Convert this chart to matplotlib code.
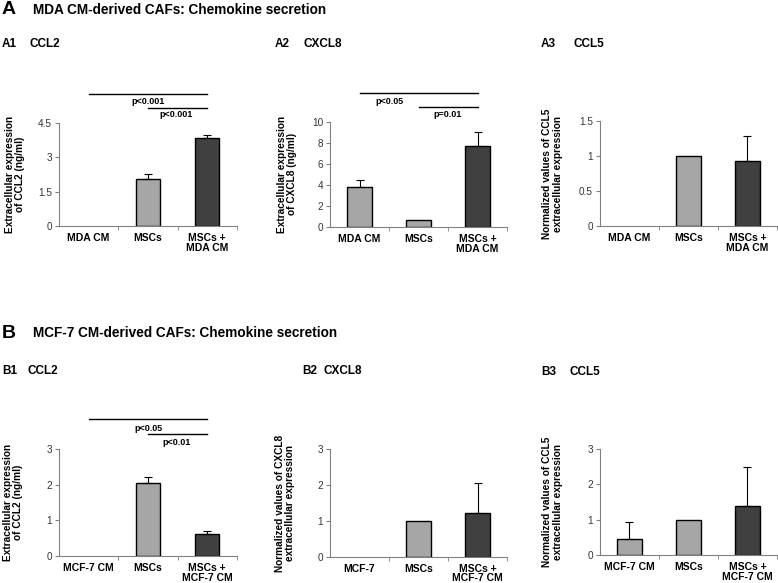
import numpy as np
import matplotlib
matplotlib.use("Agg")
import matplotlib.pyplot as plt
import matplotlib.transforms as mtransforms

plt.rcParams['font.family'] = ['Liberation Sans', 'DejaVu Sans']

# categories
cats_mda = ["MDA CM", "MSCs", "MSCs +\nMDA CM"]
cats_mcf = ["MCF-7 CM", "MSCs", "MSCs +\nMCF-7 CM"]
cats_mcf_b2 = ["MCF-7", "MSCs", "MSCs +\nMCF-7 CM"]

# values (mean, upper error)
a1_vals = [0, 2.05, 3.82]
a1_err = [0, 0.20, 0.14]
a2_vals = [3.75, 0.64, 7.71]
a2_err = [0.67, 0, 1.28]
a3_vals = [0, 1.0, 0.93]
a3_err = [0, 0, 0.36]
b1_vals = [0, 2.04, 0.62]
b1_err = [0, 0.18, 0.08]
b2_vals = [0, 1.0, 1.21]
b2_err = [0, 0, 0.84]
b3_vals = [0.45, 1.0, 1.40]
b3_err = [0.48, 0, 1.08]

light = "#a6a6a6"
dark = "#404040"
bar_cols = [light, light, dark]

fig = plt.figure(figsize=(7.78, 5.83), dpi=100)


def panel(rect, cats, vals, errs, ymax, yticks, yticklabels, ylabel, lab_x):
    ax = fig.add_axes(rect)
    x = np.arange(len(cats))
    edges = ["black" if v > 0 else "none" for v in vals]
    ax.bar(x, vals, width=0.41, color=bar_cols, edgecolor=edges, linewidth=1.0, zorder=2)
    for xi, v, e in zip(x, vals, errs):
        if e > 0:
            ax.errorbar(xi, v, yerr=[[0], [e]], fmt="none", ecolor="black",
                        elinewidth=0.8, capsize=3, capthick=0.8, zorder=3)
    ax.set_xlim(-0.5, 2.5)
    ax.set_ylim(0, ymax)
    ax.set_yticks(yticks)
    ax.set_yticklabels(yticklabels)
    ax.set_xticks(x)
    ax.set_xticklabels(cats, fontweight="bold", fontsize=7.5, linespacing=0.98)
    ax.set_xticks([0.5, 1.5, 2.5], minor=True)
    ax.tick_params(axis="x", which="major", length=0, pad=5)
    ax.tick_params(axis="x", which="minor", length=3, direction="out", color="#808080")
    ax.tick_params(axis="y", length=3, direction="out", color="#808080",
                   labelsize=7.2, labelcolor="#333333", pad=2)
    for s in ["top", "right"]:
        ax.spines[s].set_visible(False)
    for s in ["left", "bottom"]:
        ax.spines[s].set_color("#808080")
        ax.spines[s].set_linewidth(0.8)
    ax.set_ylabel(ylabel, fontweight="bold", fontsize=7.3, linespacing=1.05)
    ax.yaxis.set_label_coords(lab_x, 0.5)
    ax.patch.set_visible(False)
    return ax


def sig(ax, x0, x1, yl, label, tx, ty):
    tr = mtransforms.blended_transform_factory(ax.transData, ax.transAxes)
    ax.plot([x0, x1], [yl, yl], color="black", lw=1.0, transform=tr, clip_on=False)
    ax.text(tx, ty, label, transform=tr, ha="center", va="center",
            fontsize=6.5, fontweight="bold")


ax1 = panel([0.0758, 0.6123, 0.2288, 0.1772], cats_mda, a1_vals, a1_err, 4.5,
            [0, 1.5, 3, 4.5], ["0", "1.5", "3", "4.5"],
            "Extracellular expression\nof CCL2 (ng/ml)", -0.19)
sig(ax1, 0, 2, 1.28, "p<0.001", 1.0, 1.21)
sig(ax1, 1, 2, 1.147, "p<0.001", 1.48, 1.077)

ax2 = panel([0.4242, 0.6111, 0.2275, 0.1801], cats_mda, a2_vals, a2_err, 10,
            [0, 2, 4, 6, 8, 10], ["0", "2", "4", "6", "8", "10"],
            "Extracellular expression\nof CXCL8 (ng/ml)", -0.186)
sig(ax2, 0, 2, 1.27, "p<0.05", 0.5, 1.19)
sig(ax2, 1, 2, 1.14, "p=0.01", 1.5, 1.07)

ax3 = panel([0.7712, 0.6123, 0.2275, 0.1801], cats_mda, a3_vals, a3_err, 1.5,
            [0, 0.5, 1, 1.5], ["0", "0.5", "1", "1.5"],
            "Normalized values of CCL5\nextracellular expression", -0.21)

ax4 = panel([0.0758, 0.0463, 0.2288, 0.1835], cats_mcf, b1_vals, b1_err, 3,
            [0, 1, 2, 3], ["0", "1", "2", "3"],
            "Extracellular expression\nof CCL2 (ng/ml)", -0.20)
sig(ax4, 0, 2, 1.277, "p<0.05", 1.0, 1.19)
sig(ax4, 1, 2, 1.14, "p<0.01", 1.48, 1.06)

ax5 = panel([0.4242, 0.0451, 0.2275, 0.1842], cats_mcf_b2, b2_vals, b2_err, 3,
            [0, 1, 2, 3], ["0", "1", "2", "3"],
            "Normalized values of CXCL8\nextracellular expression", -0.198)

ax6 = panel([0.7712, 0.0480, 0.2275, 0.1818], cats_mcf, b3_vals, b3_err, 3,
            [0, 1, 2, 3], ["0", "1", "2", "3"],
            "Normalized values of CCL5\nextracellular expression", -0.21)

H = 583.0
W = 778.0


def ftext(px, py, s, size, **kw):
    fig.text(px / W, 1 - py / H, s, fontsize=size, fontweight="bold",
             va="center", ha="left", **kw)


ftext(2, 10, "A", 14)
ftext(33, 10, "MDA CM-derived CAFs: Chemokine secretion", 9.8)
ftext(2, 44, "A1", 8.5)
ftext(30, 44, "CCL2", 8.5)
ftext(275, 44, "A2", 8.5)
ftext(304, 44, "CXCL8", 8.5)
ftext(541, 44, "A3", 8.5)
ftext(573, 44, "CCL5", 8.5)

ftext(2, 333, "B", 14)
ftext(33, 333, "MCF-7 CM-derived CAFs: Chemokine secretion", 9.8)
ftext(2, 371, "B1", 8.5)
ftext(28, 371, "CCL2", 8.5)
ftext(302, 371, "B2", 8.5)
ftext(323, 371, "CXCL8", 8.5)
ftext(541, 372, "B3", 8.5)
ftext(570, 372, "CCL5", 8.5)

fig.savefig("out.png", dpi=100)
